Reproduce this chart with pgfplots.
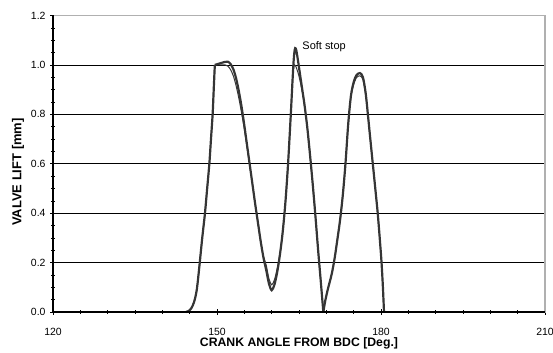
\documentclass[border=0pt]{standalone}
\usepackage{pgfplots}
\pgfplotsset{compat=1.18}
\usepackage{fontspec}
\setmainfont{Liberation Sans}
\definecolor{curve}{HTML}{353535}
\definecolor{boxgray}{HTML}{B0B0B0}
\begin{document}
\begin{tikzpicture}
\path[use as bounding box] (-53bp,-41bp) rectangle (500bp,312bp);
\begin{axis}[
  scale only axis,
  width=492bp, height=296.5bp,
  xmin=120, xmax=210, ymin=0, ymax=1.2,
  xtick={120,150,180,210},
  ytick={0,0.2,0.4,0.6,0.8,1.0,1.2},
  minor x tick num=5,
  minor y tick num=3,
  xtick pos=bottom, ytick pos=left,
  tick align=center,
  major tick length=5bp,
  minor tick length=3bp,
  tick style={black, line width=0.5pt},
  minor tick style={black, line width=0.4pt},
  ymajorgrids,
  major grid style={black, line width=0.5pt},
  axis line style={boxgray, line width=1.2pt},
  /pgf/number format/assume math mode=true,
  yticklabel style={/pgf/number format/fixed, /pgf/number format/fixed zerofill, /pgf/number format/precision=1},
  ticklabel style={font=\fontsize{10.5}{11}\selectfont},
  xticklabel style={anchor=center, yshift=-17.5bp},
  yticklabel style={anchor=east, xshift=-1.5bp},
  xlabel={\bfseries CRANK ANGLE FROM BDC [Deg.]},
  ylabel={\bfseries VALVE LIFT [mm]},
  xlabel style={font=\fontsize{12.3}{13}\selectfont, at={([yshift=-31.5bp]rel axis cs:0.5,0)}, anchor=center},
  ylabel style={font=\fontsize{13}{14}\selectfont, at={([xshift=-35bp]rel axis cs:0,0.472)}, anchor=center},
  clip=false,
]
% ---------- thin curve ----------
\addplot[curve, line width=1pt] coordinates {(120,0) (144.3,0)};
\addplot[curve, line width=1pt, smooth, tension=0.5] coordinates {
(144.3,0) (144.8,0.004) (145.3,0.015) (145.8,0.04) (146.3,0.09) (146.8,0.19)
(147.3,0.30) (147.8,0.40) (148.2,0.50) (148.6,0.60) (148.9,0.70) (149.2,0.80) (149.4,0.90)
(149.6,1.00)};
\addplot[curve, line width=1pt, smooth, tension=0.5] coordinates {
(149.6,1.00) (150.5,1.0) (151.5,1.0) (152.0,0.995) (152.5,0.98) (153.0,0.955) (153.5,0.915)
(154.0,0.865) (154.5,0.805) (155.0,0.74) (155.5,0.665) (156.0,0.59) (156.5,0.515) (157.0,0.435)
(157.5,0.36) (158.0,0.285) (158.5,0.225) (159.0,0.19) (159.5,0.135) (160.0,0.11) (160.5,0.13)
(161.0,0.175) (161.5,0.235) (162.0,0.32) (162.5,0.44) (163.0,0.60) (163.5,0.80) (163.8,0.93)
(164.0,0.985) (164.2,1.0) (164.4,0.995) (164.8,0.97) (165.2,0.935) (165.6,0.89) (166.0,0.835)
(166.5,0.75) (167.0,0.64) (167.5,0.52) (168.0,0.39) (168.5,0.25) (169.0,0.12) (169.45,0)};
\addplot[curve, line width=1pt, smooth, tension=0.5] coordinates {
(169.45,0) (169.8,0.045) (170.2,0.085) (170.6,0.12) (171.0,0.155) (171.5,0.215) (172.0,0.29)
(172.5,0.37) (173.0,0.47) (173.5,0.60) (174.0,0.76) (174.5,0.87) (175.0,0.92) (175.5,0.948)
(176.15,0.956) (176.7,0.94) (177.2,0.878) (177.6,0.80) (178.0,0.71) (178.5,0.60) (179.0,0.49)
(179.4,0.40) (179.8,0.29) (180.1,0.20) (180.35,0.10) (180.55,0)};
\addplot[curve, line width=1pt] coordinates {(180.55,0) (210,0)};
% ---------- thick curve ----------
\addplot[curve, line width=2.2pt] coordinates {(120,0) (144.3,0)};
\addplot[curve, line width=2.2pt, smooth, tension=0.5] coordinates {
(144.3,0) (144.8,0.004) (145.3,0.015) (145.8,0.04) (146.3,0.09) (146.8,0.19)
(147.3,0.30) (147.8,0.40) (148.2,0.50) (148.6,0.60) (148.9,0.70) (149.2,0.80) (149.4,0.90)
(149.6,1.00)};
\addplot[curve, line width=2.2pt, smooth, tension=0.5] coordinates {
(149.6,1.00) (150.2,1.004) (150.8,1.008) (151.4,1.012) (152.0,1.013) (152.5,1.003) (153.0,0.982)
(153.5,0.945) (154.0,0.893) (154.5,0.83) (155.0,0.755) (155.5,0.675) (156.0,0.595) (156.5,0.515)
(157.0,0.435) (157.5,0.36) (158.0,0.285) (158.5,0.22) (159.0,0.17) (159.5,0.115) (160.0,0.088)
(160.5,0.11) (161.0,0.16) (161.5,0.23) (162.0,0.32) (162.5,0.44) (163.0,0.60) (163.5,0.80)
(163.8,0.93) (164.0,1.01) (164.15,1.05) (164.3,1.068) (164.5,1.06) (164.8,1.02) (165.2,0.96)
(165.6,0.90) (166.0,0.84) (166.5,0.75) (167.0,0.64) (167.5,0.52) (168.0,0.39) (168.5,0.25)
(169.0,0.12) (169.45,0)};
\addplot[curve, line width=2.2pt, smooth, tension=0.5] coordinates {
(169.45,0) (169.8,0.045) (170.2,0.085) (170.6,0.12) (171.0,0.155) (171.5,0.215) (172.0,0.29)
(172.5,0.37) (173.0,0.47) (173.5,0.60) (174.0,0.76) (174.5,0.875) (175.0,0.93) (175.5,0.958)
(176.15,0.967) (176.7,0.95) (177.2,0.885) (177.6,0.80) (178.0,0.71) (178.5,0.60) (179.0,0.49)
(179.4,0.40) (179.8,0.29) (180.1,0.20) (180.35,0.10) (180.55,0)};
\addplot[curve, line width=2.2pt] coordinates {(180.55,0) (210,0)};
\draw[black, line width=1.2pt] (rel axis cs:0,1) -- (rel axis cs:0,0) -- (rel axis cs:1,0);
\node[anchor=west, inner sep=0pt, font=\fontsize{11}{12}\selectfont] at (axis cs:165.6,1.074) {Soft stop};
\end{axis}
\end{tikzpicture}
\end{document}
